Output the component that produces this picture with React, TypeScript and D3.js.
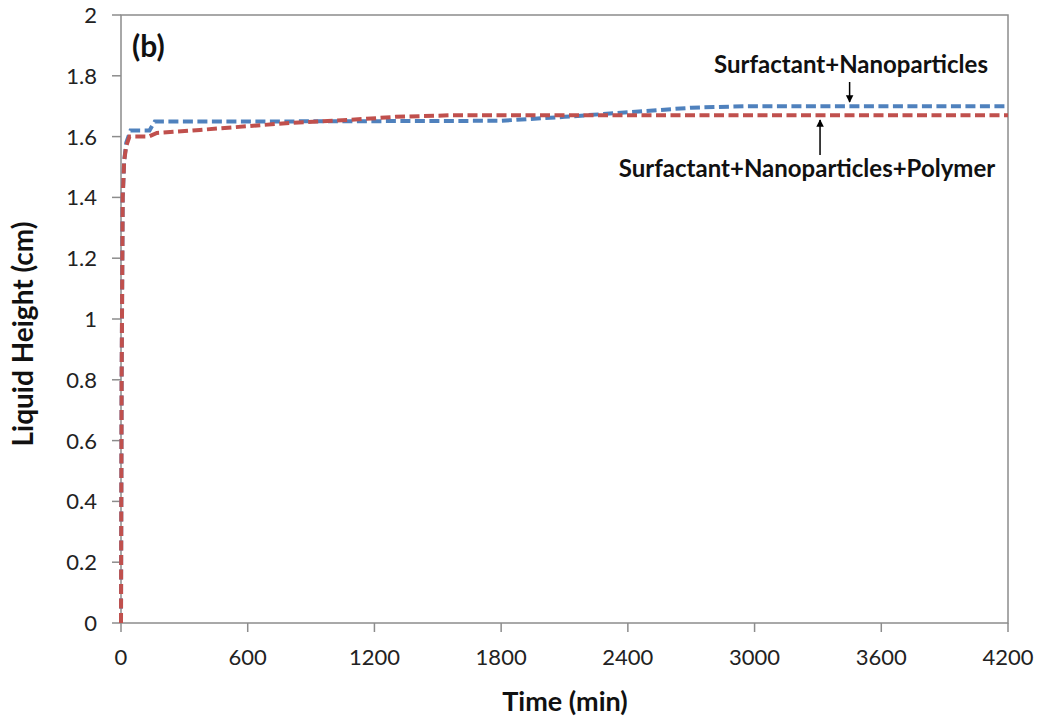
import React from "react";
import * as d3 from "d3";

// Liquid height versus time for the two foam formulations
const surfNanoTime = [0, 3, 8, 15, 25, 45, 135, 160, 800, 1800, 2100, 2400, 2700, 2950, 4200];
const surfNanoHeight = [0, 0.8, 1.4, 1.52, 1.58, 1.62, 1.62, 1.65, 1.65, 1.652, 1.665, 1.68, 1.695, 1.7, 1.7];

const surfNanoPolyTime = [0, 3, 8, 15, 25, 40, 130, 170, 374, 800, 1085, 1300, 1558, 4200];
const surfNanoPolyHeight = [0, 0.8, 1.4, 1.52, 1.57, 1.6, 1.6, 1.612, 1.622, 1.645, 1.655, 1.665, 1.67, 1.67];

const xTicks = [0, 600, 1200, 1800, 2400, 3000, 3600, 4200];
const yTicks = [0, 0.2, 0.4, 0.6, 0.8, 1, 1.2, 1.4, 1.6, 1.8, 2];

const W = 1041;
const H = 725;
const M = { left: 121, right: 1008, top: 15, bottom: 623 };

export default function App() {
  const x = d3.scaleLinear().domain([0, 4200]).range([M.left, M.right]);
  const y = d3.scaleLinear().domain([0, 2]).range([M.bottom, M.top]);

  const line = d3
    .line<[number, number]>()
    .x((d) => x(d[0]))
    .y((d) => y(d[1]));

  const blue = line(surfNanoTime.map((t, i) => [t, surfNanoHeight[i]]))!;
  const red = line(surfNanoPolyTime.map((t, i) => [t, surfNanoPolyHeight[i]]))!;

  const axisColor = "#8c8c8c";
  const font = "Lato, 'Open Sans', sans-serif";

  return (
    <svg
      width={W}
      height={H}
      style={{ position: "absolute", left: 0, top: 0, background: "#fff" }}
      fontFamily={font}
    >
      <defs>
        <marker id="ah" viewBox="0 0 10 10" refX="9" refY="5" markerWidth="5" markerHeight="6" orient="auto">
          <path d="M0,0 L10,5 L0,10 z" fill="#000" />
        </marker>
      </defs>

      {/* plot frame */}
      <rect x={M.left} y={M.top} width={M.right - M.left} height={M.bottom - M.top} fill="none" stroke={axisColor} strokeWidth={1.5} />

      {/* y ticks */}
      {yTicks.map((t) => (
        <g key={"y" + t}>
          <line x1={M.left - 9} x2={M.left} y1={y(t)} y2={y(t)} stroke={axisColor} strokeWidth={1.5} />
          <text x={M.left - 24} y={y(t)} dy="0.36em" textAnchor="end" fontSize={22} fill="#222">
            {d3.format("~g")(t)}
          </text>
        </g>
      ))}

      {/* x ticks */}
      {xTicks.map((t) => (
        <g key={"x" + t}>
          <line x1={x(t)} x2={x(t)} y1={M.bottom} y2={M.bottom + 9} stroke={axisColor} strokeWidth={1.5} />
          <text x={x(t)} y={M.bottom + 42} textAnchor="middle" fontSize={22} fill="#222">
            {t}
          </text>
        </g>
      ))}

      {/* data lines */}
      <path d={blue} fill="none" stroke="#4f81bd" strokeWidth={4} strokeDasharray="10 4.5" strokeLinecap="butt" />
      <path d={red} fill="none" stroke="#c0504d" strokeWidth={4} strokeDasharray="10 4.5" strokeLinecap="butt" />

      {/* panel label */}
      <text x={132} y={57} fontSize={30} fontWeight="bold" fill="#111">(b)</text>

      {/* series annotations */}
      <text x={851} y={73} textAnchor="middle" fontSize={24} fontWeight="bold" fill="#111">
        Surfactant+Nanoparticles
      </text>
      <line x1={x(3450)} x2={x(3450)} y1={82} y2={102} stroke="#000" strokeWidth={1.5} markerEnd="url(#ah)" />

      <line x1={x(3310)} x2={x(3310)} y1={155} y2={120} stroke="#000" strokeWidth={1.5} markerEnd="url(#ah)" />
      <text x={807} y={177} textAnchor="middle" fontSize={24} fontWeight="bold" fill="#111">
        Surfactant+Nanoparticles+Polymer
      </text>

      {/* axis titles */}
      <text
        transform={`translate(33, 334) rotate(-90)`}
        textAnchor="middle"
        fontSize={28}
        fontWeight="bold"
        fill="#111"
      >
        Liquid Height (cm)
      </text>
      <text x={565} y={711} textAnchor="middle" fontSize={27} fontWeight="bold" fill="#111">
        Time (min)
      </text>
    </svg>
  );
}
